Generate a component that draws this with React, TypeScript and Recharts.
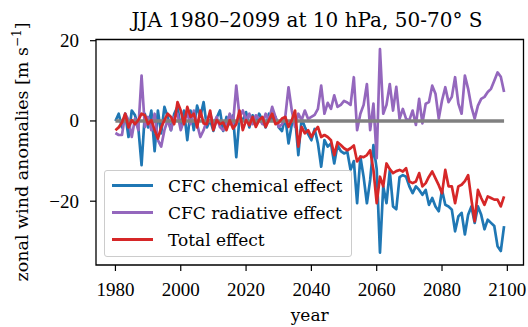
import { LineChart, Line, XAxis, YAxis, ReferenceArea, ReferenceLine } from "recharts";

// JJA zonal wind anomalies at 10 hPa, 50-70°S, one value per year from 1980
const START_YEAR = 1980;

const chemical = [
  0, 1.8, -1.6, 1.8, -4, 2.6, 1.4, -1.6, -11, 1.8,
  -1.6, 2.6, -7.5, 2.6, -3.1, 3.5, 1, -2.3, 1.8, 3.5,
  -1.6, 2.6, -4.8, 2.6, -2.3, 3.8, 1, 4.7, -1.6, 0.2,
  -2.5, 0.8, 2.6, -2.5, 1, -0.8, 1.4, -9, 1, 0.2,
  2.2, -1.6, 1.4, -0.8, 1.8, 0.2, -1.6, 1.8, 0.2, 1,
  -1.6, -2.5, 1, -5.6, -0.8, 1, -8.5, 0.6, -1.5, -3.3,
  -4.8, -2, -5.6, -11.4, -4.8, -6.4, -5.6, -10.6, -6, -7.5,
  -8.1, -7.7, -12.2, -10, -20.5, -8.9, -14, -20.5, -14.7, -6,
  -12, -32.8, -16.3, -20.5, -12.4, -21.3, -22, -14, -13.5, -13.9,
  -16.3, -18, -16.3, -17.2, -18.4, -17.2, -20.9, -19.2, -21.3, -22.5,
  -17.2, -20.9, -21.3, -22.1, -27.5, -23.8, -22.9, -28.3, -23.4, -21.3,
  -25.4, -21.3, -23.4, -27, -24.6, -25.4, -26.2, -31.2, -32.4, -26.2,
];

const radiative = [
  -3, -3.5, -3.5, 1.8, 0.2, -4, 0.6, -2.3, 11.3, -1.5,
  1, -2.3, 1.8, -4.8, -6.4, -2.3, 0.2, -2.3, 1, 1.8,
  -2.3, 0.2, 1.8, -0.8, 2.6, -0.8, -4, -2.3, 0.2, 1.8,
  -0.8, 1, -1.5, -2.3, -0.8, 1.8, -0.8, 8.8, 1, 2.6,
  0.2, 1.8, -0.8, 1.4, 0.6, -0.8, 1.8, 0.2, 3.5, 1,
  -1.5, -0.8, 1, 8.4, 2.6, -1.5, 1.8, 0.2, 2.6, 0.5,
  1, 1.5, 3, 8.8, 1.8, 4.5, 3, 6.4, 3.5, 4,
  5, 4.6, 4, 10.9, -2.3, 1.8, 4, 9.2, -2.3, 4.3,
  -9.3, 17.9, 1.8, 4, 9.2, 2.6, 8.5, 0.5, 3, 0.5,
  0.2, 2.6, -1, 5.5, -0.6, 4.3, 4.7, 8.8, 6.8, 0.6,
  5.1, 8.4, 4.7, 6, 10.9, 4.3, 1.8, 11.3, 8, 3.5,
  0.6, 3.8, 5.5, 6, 7.2, 8, 10, 12.1, 11, 7.2,
];

const total = [
  -2.3, -1.6, -0.4, 1.8, -1.6, 0.2, -0.8, 0.2, 1.8, 1.4,
  -0.8, 0.2, -2.3, -4.4, -1.6, 0.2, 1.8, 1, -0.8, 4.7,
  2.6, -0.8, 3.5, 1, 1.8, -1.6, 2.6, -0.6, -0.8, 2.6,
  -2.3, 0.2, -0.8, -0.4, -2.3, 0.2, -1.9, -0.8, 2.6, -2.3,
  0.2, -1.1, 1, -1.5, 0.2, 1, -1.5, 0.2, 1.8, -0.8,
  -0.4, 0.6, 1, -1.5, 0.2, 2.6, -6.4, -1.5, -3.1, -2.3,
  -4, -2.5, -1.5, -4, -3.5, -4, -4.8, -8.5, -5.3, -6,
  -6.8, -7.3, -6.8, -6.1, -10.1, -8.9, -9, -8.5, -7.3, -12.2,
  -20.5, -13.9, -16.3, -10.6, -12, -13, -12.5, -12.2, -12.6, -11.8,
  -15.1, -15.5, -15.1, -13, -16.3, -15.5, -13.9, -12.6, -14.3, -16,
  -18, -12.2, -16.3, -16.3, -20.5, -16.3, -15.9, -15, -13.5, -19.6,
  -25, -17.2, -19.2, -20.9, -18.8, -19.2, -19.6, -19.6, -21.3, -18.8,
];

const xTicks = [1980, 2000, 2020, 2040, 2060, 2080, 2100];
const yTicks = [-20, 0, 20];

const X_MIN = 1974.05;
const X_MAX = 2104.95;
const Y_MIN = -35.9;
const Y_MAX = 20.3;

const BLUE = "#1f77b4";
const PURPLE = "#9467bd";
const RED = "#d62728";
const GREY = "#808080";
const FONT = "DejaVu Serif";
const TICK_FONT = "Liberation Serif";

const years = chemical.map((_, i) => START_YEAR + i);
const data = years.map((year, i) => ({
  year,
  chemical: chemical[i],
  radiative: radiative[i],
  total: total[i],
}));

const legendItems = [
  { label: "CFC chemical effect", color: BLUE },
  { label: "CFC radiative effect", color: PURPLE },
  { label: "Total effect", color: RED },
];

const fmtY = (v: number) => (v < 0 ? `\u2212${Math.abs(v)}` : `${v}`);

const XTick = ({ x, y, payload }: any) => (
  <text x={x} y={y} dy={12.5} textAnchor="middle" fontSize={19} style={{ fontFamily: TICK_FONT, fontSize: 19 }} fill="#000">
    {payload.value}
  </text>
);

const YTick = ({ x, y, payload }: any) => (
  <text x={x} y={y} dy={6.3} textAnchor="end" fontSize={19} style={{ fontFamily: TICK_FONT, fontSize: 19 }} fill="#000">
    {fmtY(payload.value)}
  </text>
);

export default function App() {
  return (
    <div style={{ position: "absolute", left: 0, top: 0, width: 528, height: 327, background: "#fff" }}>
      <LineChart width={528} height={327} data={data} margin={{ top: 39.5, right: 4.5, left: 0, bottom: 0 }}>
        <XAxis
          dataKey="year"
          type="number"
          domain={[X_MIN, X_MAX]}
          ticks={xTicks}
          allowDataOverflow
          height={62}
          axisLine={false}
          tickLine={{ stroke: "#000", strokeWidth: 1.2 }}
          tickSize={6}
          tickMargin={12}
          tick={<XTick />}
        />
        <YAxis
          type="number"
          domain={[Y_MIN, Y_MAX]}
          ticks={yTicks}
          allowDataOverflow
          width={96}
          axisLine={false}
          tickLine={{ stroke: "#000", strokeWidth: 1.2 }}
          tickSize={6}
          tickMargin={11}
          tick={<YTick />}
        />
        <Line dataKey="chemical" stroke={BLUE} strokeWidth={2.7} dot={false} isAnimationActive={false} strokeLinejoin="round" />
        <Line dataKey="radiative" stroke={PURPLE} strokeWidth={2.7} dot={false} isAnimationActive={false} strokeLinejoin="round" />
        <ReferenceLine
          segment={[{ x: 1980, y: 0 }, { x: 2099, y: 0 }]}
          stroke={GREY}
          strokeWidth={3.6}
        />
        <Line dataKey="total" stroke={RED} strokeWidth={2.7} dot={false} isAnimationActive={false} strokeLinejoin="round" />
        <ReferenceArea x1={X_MIN} x2={X_MAX} y1={Y_MIN} y2={Y_MAX} fill="none" stroke="#000" strokeWidth={1.3} />
      </LineChart>

      <svg width={528} height={327} style={{ position: "absolute", left: 0, top: 0, pointerEvents: "none" }}>
        <text x={307} y={27} textAnchor="middle" fontFamily={FONT} fontSize={20} fill="#000">
          JJA 1980–2099 at 10 hPa, 50-70° S
        </text>
        <text x={309.7} y={321} textAnchor="middle" fontFamily={FONT} fontSize={17} fill="#000">
          year
        </text>
        <text
          transform="translate(28,152) rotate(-90)"
          textAnchor="middle"
          fontFamily={FONT}
          fontSize={17.5}
          fill="#000"
        >
          zonal wind anomalies [m s
          <tspan dy={-7} fontSize={12}>{"\u22121"}</tspan>
          <tspan dy={7}>]</tspan>
        </text>
      </svg>

      <div
        style={{
          position: "absolute",
          left: 104,
          top: 170,
          width: 246,
          height: 85,
          border: "1px solid #cccccc",
          borderRadius: 3,
          background: "rgba(255,255,255,0.8)",
          fontFamily: FONT,
          fontSize: 17,
          color: "#000",
        }}
      >
        {legendItems.map((it, i) => (
          <div key={it.label} style={{ position: "absolute", left: 0, top: 1 + i * 27, height: 27, display: "flex", alignItems: "center" }}>
            <div style={{ marginLeft: 7, width: 41, height: 2.7, background: it.color }} />
            <span style={{ marginLeft: 15, whiteSpace: "nowrap" }}>{it.label}</span>
          </div>
        ))}
      </div>
    </div>
  );
}
